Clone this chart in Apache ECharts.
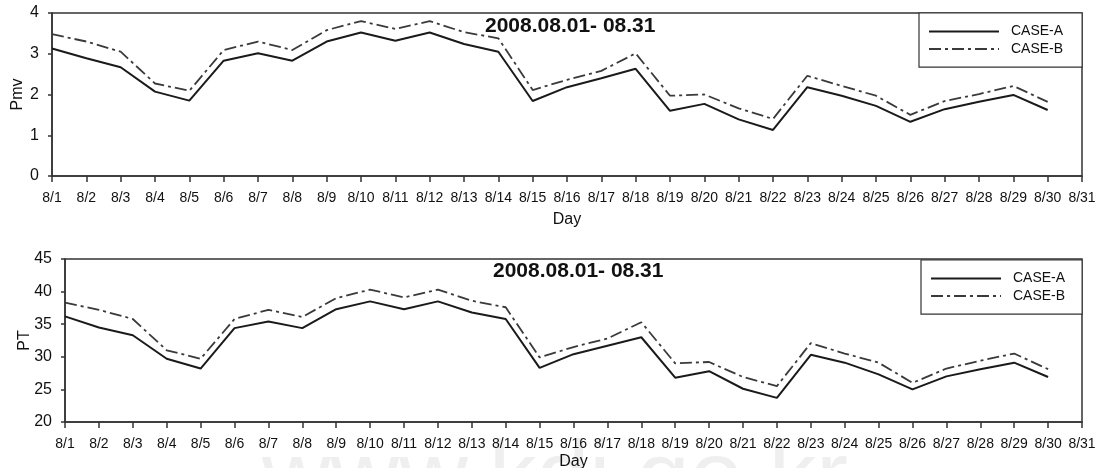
<!DOCTYPE html>
<html>
<head>
<meta charset="utf-8">
<script src="https://cdn.jsdelivr.net/npm/echarts@6/dist/echarts.min.js"></script>
<style>
html,body{margin:0;padding:0;background:#fff;}
#c{width:1104px;height:468px;}
</style>
</head>
<body>
<div id="c"></div>
<script>
var days = ['8/1','8/2','8/3','8/4','8/5','8/6','8/7','8/8','8/9','8/10','8/11','8/12','8/13','8/14','8/15','8/16','8/17','8/18','8/19','8/20','8/21','8/22','8/23','8/24','8/25','8/26','8/27','8/28','8/29','8/30','8/31'];
var pmvCaseA = [3.13,2.89,2.67,2.07,1.85,2.83,3.01,2.83,3.30,3.52,3.32,3.52,3.24,3.05,1.84,2.18,2.40,2.63,1.60,1.77,1.39,1.13,2.18,1.97,1.72,1.33,1.64,1.82,1.99,1.62];
var pmvCaseB = [3.48,3.30,3.05,2.27,2.09,3.09,3.30,3.09,3.58,3.80,3.61,3.80,3.53,3.38,2.11,2.36,2.58,3.01,1.97,2.00,1.66,1.40,2.46,2.21,1.97,1.50,1.84,2.01,2.21,1.82];
var ptCaseA = [36.2,34.5,33.3,29.7,28.2,34.4,35.4,34.4,37.3,38.5,37.3,38.5,36.8,35.8,28.3,30.4,31.7,33.0,26.8,27.8,25.1,23.7,30.3,29.1,27.3,25.0,27.0,28.1,29.1,26.9];
var ptCaseB = [38.3,37.2,35.8,31.0,29.7,35.8,37.2,36.1,39.0,40.3,39.1,40.3,38.6,37.6,29.9,31.5,32.8,35.3,29.0,29.2,26.9,25.5,32.1,30.5,29.1,26.0,28.2,29.4,30.5,28.1];
var pmvTicks = {min:0, max:4, interval:1};
var ptTicks = {min:20, max:45, interval:5};
var titleText = '2008.08.01- 08.31';
var seriesNames = ['CASE-A','CASE-B'];

var FONT = 'Liberation Sans, Arial, sans-serif';
var AX = '#333';
var dashDot = [12,4,3,4];
var colA = '#1a1a1a', colB = '#3a3a3a';

function xAxisCfg(gi, gap){
  return {
    type:'category', gridIndex:gi, data:days, boundaryGap:false,
    name:'Day', nameLocation:'middle', nameGap:gap, nameMoveOverlap:false,
    nameTextStyle:{fontFamily:FONT, fontSize:16, color:'#111'},
    axisLine:{show:true, lineStyle:{color:AX, width:1.5}},
    axisTick:{show:true, inside:false, length:6, interval:0, alignWithLabel:true, lineStyle:{color:AX, width:1.5}},
    axisLabel:{interval:0, margin:15, fontFamily:FONT, fontSize:14, color:'#111'},
    splitLine:{show:false}
  };
}
function yAxisCfg(gi, t, name, gap, fs){
  return {
    type:'value', gridIndex:gi, min:t.min, max:t.max, interval:t.interval,
    name:name, nameLocation:'middle', nameGap:gap, nameRotate:90, nameMoveOverlap:false,
    nameTextStyle:{fontFamily:FONT, fontSize:16, color:'#111'},
    axisLine:{show:true, lineStyle:{color:AX, width:1.5}},
    axisTick:{show:true, inside:false, length:4, lineStyle:{color:AX, width:1.5}},
    axisLabel:{margin:13, fontFamily:FONT, fontSize:fs, color:'#111'},
    splitLine:{show:false}
  };
}
function lineSeries(name, data, xi, dashed){
  var c = dashed ? colB : colA;
  return {
    type:'line', name:name, data:data, xAxisIndex:xi, yAxisIndex:xi,
    symbol:'none', showSymbol:false, silent:true, animation:false,
    color:c, itemStyle:{color:c},
    lineStyle: dashed ? {color:c, width:1.8, type:dashDot} : {color:c, width:2, type:'solid'}
  };
}
function legendCfg(left, top, padRight){
  return {
    data:seriesNames, orient:'vertical', left:left, top:top,
    itemWidth:70, itemHeight:14, itemGap:3.6,
    padding:[11.5,padRight,11,9], borderColor:'#333', borderWidth:1.2,
    backgroundColor:'#fff',
    itemStyle:{opacity:0},
    textStyle:{fontFamily:FONT, fontSize:14, color:'#111', padding:[0,0,0,7]},
    selectedMode:false
  };
}

var chart = echarts.init(document.getElementById('c'), null, {renderer:'canvas'});
chart.setOption({
  animation:false,
  backgroundColor:'#fff',
  graphic:[{
    type:'text', z:-10, silent:true,
    style:{text:'www.kdi.go.kr', x:262, y:433, font:'95px Liberation Sans', fill:'#efefef', verticalAlign:'top'}
  }],
  title:[
    {text:titleText, left:485, top:16, padding:0, textStyle:{fontFamily:FONT, fontSize:21, fontWeight:'bold', color:'#111'}},
    {text:titleText, left:493, top:261, padding:0, textStyle:{fontFamily:FONT, fontSize:21, fontWeight:'bold', color:'#111'}}
  ],
  legend:[legendCfg(919,13,19), legendCfg(921,260,17)],
  grid:[
    {left:52, right:22, top:13, height:163, outerBoundsMode:'none', containLabel:false, show:true, borderColor:AX, borderWidth:1.5, backgroundColor:'transparent'},
    {left:65, right:22, top:259, height:163, outerBoundsMode:'none', containLabel:false, show:true, borderColor:AX, borderWidth:1.5, backgroundColor:'transparent'}
  ],
  xAxis:[xAxisCfg(0, 36), xAxisCfg(1, 32)],
  yAxis:[yAxisCfg(0, pmvTicks, 'Pmv', 26, 16), yAxisCfg(1, ptTicks, 'PT', 32, 16)],
  series:[
    lineSeries(seriesNames[0], pmvCaseA, 0, false),
    lineSeries(seriesNames[1], pmvCaseB, 0, true),
    lineSeries(seriesNames[0], ptCaseA, 1, false),
    lineSeries(seriesNames[1], ptCaseB, 1, true)
  ]
});
</script>
</body>
</html>
